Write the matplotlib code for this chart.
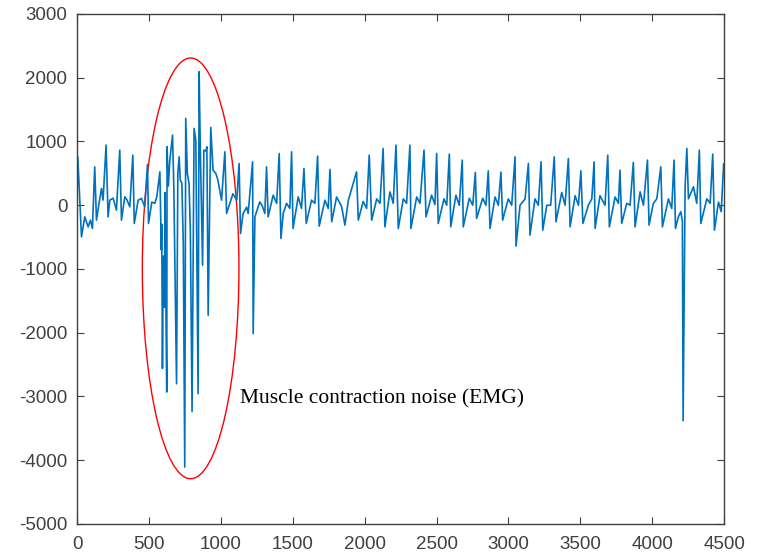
import matplotlib.pyplot as plt
from matplotlib.patches import Ellipse

plt.rcParams['axes.unicode_minus'] = False

# ECG vertices (sample index, amplitude)
samples = [0, 5, 31, 54, 77, 93, 107, 123, 135, 151, 170, 181, 202, 216, 228, 251, 274,
           297, 309, 332, 346, 367, 388, 398, 425, 448, 471, 490, 497, 520, 541, 555,
           576, 586, 589, 594, 600, 607, 612, 619, 624, 626, 635, 645, 664, 673, 692,
           701, 710, 718, 729, 739, 749, 756, 767, 779, 788, 800, 814, 826, 842, 849,
           857, 873, 882, 896, 903, 912, 930, 946, 965, 979, 1005, 1028, 1040, 1063,
           1084, 1111, 1127, 1137, 1155, 1179, 1190, 1221, 1225, 1237, 1271, 1290,
           1306, 1318, 1329, 1364, 1388, 1406, 1418, 1434, 1457, 1480, 1492, 1502,
           1538, 1561, 1578, 1594, 1631, 1654, 1673, 1684, 1724, 1747, 1759, 1771,
           1805, 1840, 1863, 1887, 1944, 1956, 1990, 2014, 2032, 2049, 2084, 2107,
           2129, 2141, 2176, 2199, 2218, 2234, 2269, 2292, 2315, 2322, 2362, 2385,
           2413, 2427, 2466, 2489, 2501, 2512, 2552, 2571, 2589, 2599, 2635, 2658,
           2679, 2686, 2728, 2752, 2770, 2779, 2821, 2844, 2860, 2872, 2907, 2930,
           2948, 2960, 2999, 3023, 3046, 3053, 3081, 3116, 3139, 3150, 3185, 3208,
           3227, 3239, 3267, 3294, 3319, 3331, 3371, 3394, 3417, 3429, 3464, 3487,
           3504, 3518, 3556, 3580, 3596, 3603, 3637, 3672, 3691, 3702, 3742, 3765,
           3776, 3788, 3823, 3846, 3869, 3881, 3916, 3939, 3967, 3978, 4008, 4032,
           4060, 4071, 4113, 4136, 4152, 4162, 4182, 4199, 4210, 4215, 4229, 4241,
           4252, 4287, 4310, 4328, 4338, 4380, 4403, 4421, 4433, 4461, 4480, 4497]
amplitude = [100, 760, -496, -182, -339, -234, -364, 603, -234, 0, 263, 80, 943, -182, 80,
             111, -77, 865, -234, 132, 90, -25, 786, -286, 80, 107, -25, 640, -286, 50,
             30, 136, 524, -700, -300, -2560, -800, -1600, 200, -1850, -2930, 917, 300,
             700, 1100, 300, -2800, 500, 760, 394, 346, -600, -4107, 1362, 500, 342,
             -400, -3237, 1205, 1021, -2955, 2094, 917, -940, 865, 850, 917, -1725,
             1221, 551, 500, 400, 80, 838, -129, 30, 180, 80, 656, -443, -129, -30,
             -129, 681, -2013, -182, 53, -20, -129, 603, -182, 158, 30, 812, -522, -129,
             30, -50, 838, -364, 132, -50, 577, -286, 80, 30, 771, -328, 80, -50, 562,
             -260, 130, -20, -312, 80, 524, -234, 60, -50, 786, -234, 100, 30, 891,
             -339, 210, 30, 943, -364, 100, 30, 943, -364, 130, 30, 865, -182, 158, 10,
             812, -286, 100, 0, 802, -339, 158, 0, 708, -339, 110, 0, 514, -207, 110, 0,
             540, -364, 130, 0, 520, -234, 100, 0, 760, -642, 0, 100, 656, -469, 100, 0,
             681, -391, 0, 0, 760, -260, 200, 0, 734, -339, 150, 0, 540, -286, 0, 100,
             681, -364, 150, 0, 786, -339, 130, 30, 551, -286, 30, 0, 672, -339, 210, 0,
             708, -312, 30, 100, 603, -339, 100, -50, 708, -364, -182, -100, -250,
             -3380, 290, 891, 100, 290, 30, 865, -286, 100, 30, 802, -391, 50, -100, 650]

xticks = [0, 500, 1000, 1500, 2000, 2500, 3000, 3500, 4000, 4500]
yticks = [-5000, -4000, -3000, -2000, -1000, 0, 1000, 2000, 3000]
note = 'Muscle contraction noise (EMG)'

fig = plt.figure(figsize=(7.59, 5.6), dpi=100)
ax = fig.add_axes([0.1015, 0.0643, 0.8525, 0.9107])

ax.plot(samples, amplitude, color='#0072BD', linewidth=1.2)

# red ellipse around the EMG burst
ax.add_patch(Ellipse((790, -990), 672, 6600, fill=False, edgecolor='#FF0000', linewidth=1.0))
ax.text(1132, -3030, note, family='Liberation Serif', fontsize=15.5, color='black',
        ha='left', va='center')

ax.set_xlim(0, 4500)
ax.set_ylim(-5000, 3000)
ax.set_xticks(xticks)
ax.set_yticks(yticks)
ax.tick_params(direction='in', length=5, top=True, right=True, labelsize=13.5,
               labelcolor='#404040', color='#404040', width=0.8)
ax.tick_params(axis='x', pad=9)
ax.tick_params(axis='y', pad=7)
for lab in ax.get_xticklabels() + ax.get_yticklabels():
    lab.set_family('Liberation Sans')
for s in ax.spines.values():
    s.set_color('#404040')
    s.set_linewidth(1.0)

fig.savefig('out.png', dpi=100)
